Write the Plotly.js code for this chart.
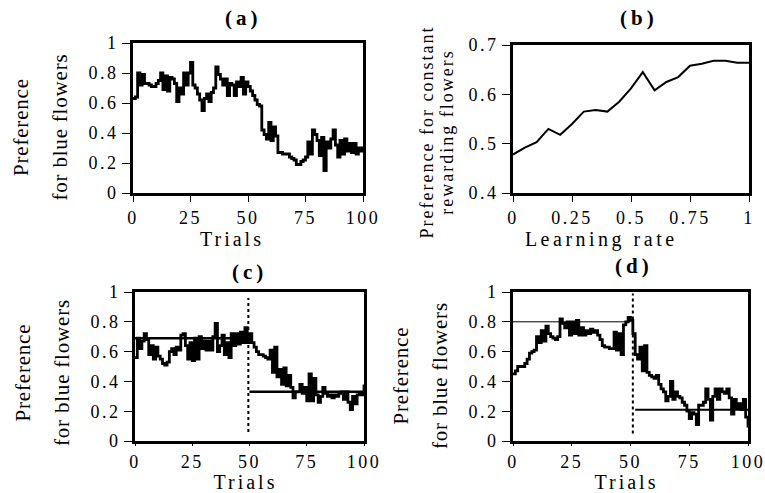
<!DOCTYPE html>
<html>
<head>
<meta charset="utf-8">
<script src="https://cdn.plot.ly/plotly-3.0.1.min.js"></script>
<style>
html,body{margin:0;padding:0;background:#fff;}
#chart{width:765px;height:493px;}
#chart text { font-family: 'Liberation Serif', 'Times New Roman', serif !important; }
g.xtick text, g.x2tick text, g.x3tick text, g.x4tick text,
g.ytick text, g.y2tick text, g.y3tick text, g.y4tick text { letter-spacing: 2.5px; }
text.xtitle, text.x3title, text.x4title { letter-spacing: 3px; }
text.x2title { letter-spacing: 3.5px; }
text.ytitle, text.y3title, text.y4title { letter-spacing: 0.8px; }
text.y2title { letter-spacing: 2px; }
g.annotation text { letter-spacing: 4px; }
</style>
</head>
<body>
<div id="chart"></div>
<script>
// ---------- data ----------
const trials = Array.from({length: 101}, (_, i) => i);

const prefA = [0.63,0.64,0.80,0.72,0.79,0.73,0.73,0.72,0.71,0.71,
  0.73,0.75,0.80,0.69,0.78,0.68,0.77,0.76,0.73,0.61,
  0.70,0.66,0.80,0.72,0.80,0.87,0.72,0.70,0.66,0.62,
  0.55,0.63,0.66,0.61,0.67,0.70,0.84,0.79,0.76,0.72,
  0.76,0.65,0.73,0.72,0.65,0.74,0.71,0.77,0.66,0.74,
  0.71,0.68,0.65,0.62,0.59,0.58,0.42,0.39,0.36,0.47,
  0.35,0.44,0.38,0.27,0.27,0.26,0.26,0.26,0.24,0.23,
  0.22,0.19,0.19,0.21,0.22,0.24,0.34,0.26,0.42,0.39,
  0.35,0.25,0.37,0.15,0.34,0.30,0.36,0.42,0.32,0.24,
  0.35,0.26,0.36,0.28,0.33,0.27,0.33,0.26,0.30,0.28,0.31];

const learningRate = [0,0.05,0.1,0.15,0.2,0.25,0.3,0.35,0.4,0.45,0.5,0.55,0.6,0.65,0.7,0.75,0.8,0.85,0.9,0.95,1];
const prefConstant = [0.478,0.492,0.503,0.530,0.518,0.540,0.565,0.568,0.565,0.585,0.612,0.645,0.608,0.625,0.635,0.658,0.662,0.668,0.668,0.664,0.664];

const prefC = [0.56,0.69,0.62,0.67,0.72,0.68,0.58,0.64,0.55,0.63,
  0.57,0.55,0.52,0.51,0.53,0.60,0.62,0.58,0.63,0.61,
  0.71,0.72,0.64,0.55,0.66,0.54,0.69,0.55,0.70,0.62,
  0.67,0.61,0.67,0.61,0.70,0.79,0.60,0.64,0.71,0.58,
  0.66,0.56,0.72,0.64,0.72,0.65,0.73,0.66,0.76,0.66,
  0.72,0.66,0.63,0.60,0.58,0.58,0.57,0.56,0.55,0.61,
  0.46,0.63,0.43,0.48,0.38,0.49,0.37,0.44,0.36,0.29,
  0.33,0.33,0.38,0.32,0.36,0.27,0.45,0.27,0.42,0.31,
  0.26,0.30,0.36,0.32,0.30,0.31,0.29,0.31,0.30,0.32,
  0.33,0.28,0.33,0.26,0.21,0.30,0.25,0.31,0.32,0.31,0.38];

const prefD = [0.45,0.47,0.50,0.50,0.50,0.52,0.55,0.59,0.60,0.61,
  0.70,0.66,0.74,0.67,0.77,0.72,0.70,0.69,0.68,0.70,
  0.82,0.79,0.76,0.80,0.71,0.80,0.72,0.81,0.71,0.76,
  0.71,0.74,0.72,0.75,0.73,0.74,0.71,0.68,0.64,0.63,
  0.63,0.62,0.62,0.73,0.61,0.72,0.58,0.78,0.80,0.83,
  0.81,0.72,0.58,0.55,0.63,0.47,0.64,0.46,0.44,0.43,
  0.42,0.44,0.38,0.35,0.33,0.27,0.30,0.40,0.28,0.33,
  0.30,0.29,0.26,0.24,0.20,0.15,0.19,0.18,0.11,0.24,
  0.24,0.26,0.35,0.28,0.14,0.30,0.35,0.28,0.35,0.33,
  0.32,0.35,0.29,0.18,0.28,0.22,0.25,0.21,0.28,0.16,0.09];

// mean preference lines and switch markers
const meanC_before_x = [0, 50], meanC_before_y = [0.69, 0.69];
const meanC_after_x = [50, 100], meanC_after_y = [0.33, 0.33];
const meanD_before_x = [0, 50], meanD_before_y = [0.80, 0.80];
const meanD_after_x = [52, 100], meanD_after_y = [0.21, 0.21];
const switchC_x = [49.5, 49.5], switchC_y = [0.06, 0.96];
const switchD_x = [51, 51], switchD_y = [0.05, 0.99];

const trialTicks = [0, 25, 50, 75, 100];
const trialTickText = ['0', '25', '50', '75', '100'];
const prefTicks = [0, 0.2, 0.4, 0.6, 0.8, 1];
const prefTickText = ['0', '0.2', '0.4', '0.6', '0.8', '1'];
const rateTicks = [0, 0.25, 0.5, 0.75, 1];
const rateTickText = ['0', '0.25', '0.5', '0.75', '1'];
const constTicks = [0.4, 0.5, 0.6, 0.7];
const constTickText = ['0.4', '0.5', '0.6', '0.7'];

// ---------- chart ----------
const FONT = 'Liberation Serif';
const W = 765, H = 493;
const px = (a, b) => [a / W, b / W];
const py = (top, bottom) => [1 - bottom / H, 1 - top / H];
const pad = n => '&nbsp;'.repeat(n);
const twoLine = (l1, l2, size, n) =>
  '<span style="font-size:' + size + 'px">' + l1 + pad(n) + '</span><br>' +
  '<span style="font-size:' + size + 'px">' + l2 + pad(n) + '</span>';

const stepLine = {color: '#000', width: 2.8, shape: 'hv'};
const traces = [
  {x: trials, y: prefA, xaxis: 'x', yaxis: 'y', mode: 'lines', line: stepLine},
  {x: learningRate, y: prefConstant, xaxis: 'x2', yaxis: 'y2', mode: 'lines', line: {color: '#000', width: 2}},
  {x: trials, y: prefC, xaxis: 'x3', yaxis: 'y3', mode: 'lines', line: stepLine},
  {x: meanC_before_x, y: meanC_before_y, xaxis: 'x3', yaxis: 'y3', mode: 'lines', line: {color: '#000', width: 2.5}},
  {x: meanC_after_x, y: meanC_after_y, xaxis: 'x3', yaxis: 'y3', mode: 'lines', line: {color: '#000', width: 2.5}},
  {x: switchC_x, y: switchC_y, xaxis: 'x3', yaxis: 'y3', mode: 'lines', line: {color: '#000', width: 2, dash: 'dot'}},
  {x: trials, y: prefD, xaxis: 'x4', yaxis: 'y4', mode: 'lines', line: stepLine},
  {x: meanD_before_x, y: meanD_before_y, xaxis: 'x4', yaxis: 'y4', mode: 'lines', line: {color: '#000', width: 1}},
  {x: meanD_after_x, y: meanD_after_y, xaxis: 'x4', yaxis: 'y4', mode: 'lines', line: {color: '#000', width: 2}},
  {x: switchD_x, y: switchD_y, xaxis: 'x4', yaxis: 'y4', mode: 'lines', line: {color: '#000', width: 2, dash: 'dot'}}
];

const base = {
  showline: true, linewidth: 3, linecolor: '#000', mirror: true,
  ticks: 'outside', tickwidth: 1, tickcolor: '#000',
  showgrid: false, zeroline: false, fixedrange: true,
  ticklabeloverflow: 'allow',
  tickfont: {family: FONT, size: 18, color: '#000'}
};
const xAx = (domain, anchor, vals, text, range, title, ticklen, standoff) => Object.assign({}, base, {
  domain, anchor, tickmode: 'array', tickvals: vals, ticktext: text, range, ticklen,
  title: {text: title, font: {family: FONT, size: 20, color: '#000'}, standoff}
});
const yAx = (domain, anchor, vals, text, range, title, size) => Object.assign({}, base, {
  domain, anchor, tickmode: 'array', tickvals: vals, ticktext: text, range, ticklen: 8,
  title: {text: title, font: {family: FONT, size: size, color: '#000'}, standoff: 12}
});

const layout = {
  width: W, height: H,
  margin: {l: 0, r: 0, t: 0, b: 0},
  paper_bgcolor: '#fff', plot_bgcolor: '#fff',
  showlegend: false,
  font: {family: FONT, color: '#000'},
  xaxis: xAx(px(133, 363), 'y', trialTicks, trialTickText, [0, 100], 'Trials' + pad(4), 6, 4),
  yaxis: yAx(py(43, 193), 'x', prefTicks, prefTickText, [0, 1], twoLine('Preference', 'for blue flowers', 21, 3), 30),
  xaxis2: xAx(px(513, 749), 'y2', rateTicks, rateTickText, [0, 1], 'Learning rate' + pad(7), 6, 4),
  yaxis2: yAx(py(45, 193), 'x2', constTicks, constTickText, [0.4, 0.7], twoLine('Preference for constant', 'rewarding flowers', 18, 4), 15),
  xaxis3: xAx(px(135, 364), 'y3', trialTicks, trialTickText, [0, 100], 'Trials' + pad(1), 2, 4),
  yaxis3: yAx(py(292, 441), 'x3', prefTicks, prefTickText, [0, 1], twoLine('Preference', 'for blue flowers', 21, 2), 30),
  xaxis4: xAx(px(513, 748), 'y4', trialTicks, trialTickText, [0, 100], 'Trials' + pad(1), 2, 4),
  yaxis4: yAx(py(292, 441), 'x4', prefTicks, prefTickText, [0, 1], twoLine('Preference', 'for blue flowers', 21, 3), 30),
  annotations: [
    {text: '<b>(a)</b>', x: 243 / W, y: 1 - 18 / H},
    {text: '<b>(b)</b>', x: 639 / W, y: 1 - 18 / H},
    {text: '<b>(c)</b>', x: 249 / W, y: 1 - 272 / H},
    {text: '<b>(d)</b>', x: 634 / W, y: 1 - 266 / H}
  ].map(a => Object.assign(a, {xref: 'paper', yref: 'paper', xanchor: 'center', yanchor: 'middle',
    showarrow: false, font: {family: FONT, size: 21, color: '#000'}}))
};

Plotly.newPlot('chart', traces, layout, {displayModeBar: false, staticPlot: true});
</script>
</body>
</html>
